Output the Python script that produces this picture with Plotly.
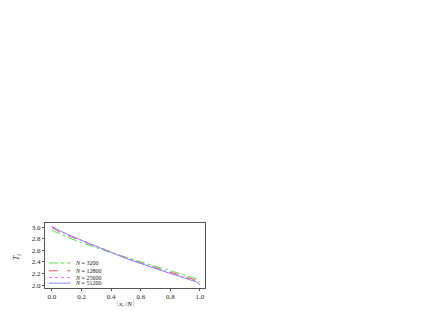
import plotly.graph_objects as go

x = [0, 0.02, 0.05, 0.1, 0.2, 0.3, 0.4, 0.5, 0.6, 0.7, 0.8, 0.9, 0.95, 0.98, 1.0]
t_3200 = [2.95, 2.92, 2.89, 2.83, 2.73, 2.64, 2.56, 2.48, 2.40, 2.32, 2.25, 2.17, 2.13, 2.11, 2.05]
t_12800 = [2.99, 2.96, 2.92, 2.86, 2.76, 2.66, 2.56, 2.47, 2.38, 2.30, 2.22, 2.14, 2.10, 2.08, 2.03]
t_25600 = [3.00, 2.97, 2.93, 2.87, 2.77, 2.66, 2.56, 2.47, 2.38, 2.29, 2.21, 2.13, 2.09, 2.06, 2.01]
t_51200 = [3.01, 2.98, 2.94, 2.88, 2.77, 2.66, 2.56, 2.46, 2.37, 2.28, 2.20, 2.12, 2.08, 2.05, 2.00]
names = ["<i>N</i> = 3200", "<i>N</i> = 12800", "<i>N</i> = 25600", "<i>N</i> = 51200"]
x_ticks = [0, 0.2, 0.4, 0.6, 0.8, 1.0]
x_ticktext = ["0.0", "0.2", "0.4", "0.6", "0.8", "1.0"]
y_ticks = [2.0, 2.2, 2.4, 2.6, 2.8, 3.0]
y_ticktext = ["2.0", "2.2", "2.4", "2.6", "2.8", "3.0"]
series = [t_3200, t_12800, t_25600, t_51200]
colors = ["#44ee44", "#ff5555", "#ff66ff", "#8888ff"]
dashes = ["dashdot", "dash", "dot", "solid"]

fam = "Liberation Serif, Times New Roman, serif"
fig = go.Figure()
legend_y = [0.385, 0.265, 0.16, 0.075]
for nm, ys, c, d, ly in zip(names, series, colors, dashes, legend_y):
    fig.add_trace(go.Scatter(x=x, y=ys, mode="lines", name=nm,
                             line=dict(color=c, dash=d, width=1)))
    # compact legend entry
    fig.add_shape(type="line", xref="paper", yref="paper", x0=0.025, x1=0.16, y0=ly, y1=ly,
                  line=dict(color=c, dash=d, width=1))
    fig.add_annotation(xref="paper", yref="paper", x=0.175, y=ly, text=nm, showarrow=False,
                       xanchor="left", yanchor="middle", font=dict(family=fam, size=6, color="#222"))

# axis titles
fig.add_annotation(xref="paper", yref="paper", x=0.5, y=-0.245, text="〈<i>x</i><sub><i>i</i></sub> /<i>N</i>〉",
                   showarrow=False, xanchor="center", yanchor="middle",
                   font=dict(family=fam, size=7, color="#222"))
fig.add_annotation(xref="paper", yref="paper", x=-0.17, y=0.47, text="<i>T</i><sub><i>i</i></sub>",
                   showarrow=False, xanchor="center", yanchor="middle", textangle=-90,
                   font=dict(family=fam, size=8, color="#222"))

fig.update_layout(
    width=436, height=311,
    margin=dict(l=37, r=239, t=215, b=31, autoexpand=False),
    paper_bgcolor="white", plot_bgcolor="white",
    font=dict(family=fam, size=7, color="#222"),
    showlegend=False,
)
fig.update_xaxes(range=[-0.047, 1.034], tickvals=x_ticks, ticktext=x_ticktext, automargin=False,
                 showline=True, linecolor="#555", linewidth=1, mirror=True,
                 ticks="outside", ticklen=2, tickcolor="#555", showgrid=False, zeroline=False,
                 tickfont=dict(family=fam, size=7, color="#222"))
fig.update_yaxes(range=[1.95, 3.07], tickvals=y_ticks, ticktext=y_ticktext, automargin=False,
                 showline=True, linecolor="#555", linewidth=1, mirror=True,
                 ticks="outside", ticklen=2, tickcolor="#555", showgrid=False, zeroline=False,
                 tickfont=dict(family=fam, size=7, color="#222"))

fig.write_html("out.html")
